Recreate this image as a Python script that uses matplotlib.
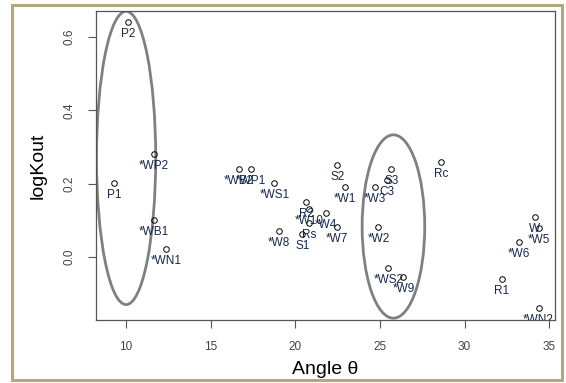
import matplotlib
matplotlib.use("Agg")
import matplotlib.pyplot as plt
from matplotlib.patches import Ellipse, Rectangle

plt.rcParams['font.family'] = ['Liberation Sans', 'DejaVu Sans']

# point labels, angle and logKout
labels = ['P2', '*WP2', 'P1', '*WB1', '*WN1', '*WB2', '*WP1', '*WS1',
          'S2', '*W1', '*W3', 'C3', 'S3', 'R2', '*W10', '*W4', 'Rs', 'S1',
          '*W7', '*W8', '*W2', '*WS2', '*W9', 'Rc', 'W', '*W5', '*W6',
          'R1', '*WN2']
angle = [10.12, 11.66, 9.29, 11.66, 12.37, 16.69, 17.40, 18.76,
         22.49, 22.96, 24.73, 25.44, 25.68, 20.65, 20.83, 21.83, 20.83, 20.41,
         22.49, 19.05, 24.91, 25.50, 26.39, 28.64, 34.14, 34.38, 33.20,
         32.19, 34.38]
logkout = [0.641, 0.281, 0.202, 0.101, 0.022, 0.240, 0.240, 0.202,
           0.251, 0.191, 0.191, 0.210, 0.240, 0.150, 0.131, 0.120, 0.093, 0.063,
           0.082, 0.071, 0.082, -0.030, -0.055, 0.259, 0.109, 0.079, 0.041,
           -0.060, -0.139]

# the two groups that are circled
groups_x = [10.0, 25.8]
groups_y = [0.27, 0.083]
groups_w = [3.5, 3.7]
groups_h = [0.80, 0.50]

xticks = [10, 15, 20, 25, 30, 35]
yticks = [0.0, 0.2, 0.4, 0.6]

fig = plt.figure(figsize=(5.66, 3.83), dpi=100)
ax = fig.add_axes([0.1696, 0.1645, 0.811, 0.807])

# outer border round the whole picture
fig.patches.append(Rectangle((12 / 566, 3 / 383), 550 / 566, 375 / 383,
                             transform=fig.transFigure, fill=False,
                             edgecolor='#b4a97c', linewidth=2.2))

ax.plot(angle, logkout, 'o', markersize=4, markerfacecolor='none',
        markeredgecolor='black', markeredgewidth=0.7)

# text under each point
for name, x, y in zip(labels, angle, logkout):
    ax.annotate(name, (x, y), xytext=(0, -4.5), textcoords='offset points',
                ha='center', va='top', fontsize=8.5, color='#14284b',
                annotation_clip=False, clip_on=True)

for cx, cy, w, h in zip(groups_x, groups_y, groups_w, groups_h):
    ax.add_patch(Ellipse((cx, cy), w, h, fill=False, edgecolor='#808080',
                         linewidth=2))

ax.set_xlim(8.22, 35.35)
ax.set_ylim(-0.172, 0.671)
ax.set_xticks(xticks)
ax.set_xticklabels([str(t) for t in xticks])
ax.set_yticks(yticks)
ax.set_yticklabels(['%.1f' % t for t in yticks], rotation=90, va='center')
ax.tick_params(length=6, width=0.8, color='#555555', labelsize=8.5,
               labelcolor='#444444', pad=9)

for side in ax.spines.values():
    side.set_color('#555555')
    side.set_linewidth(0.9)

ax.set_xlabel('Angle θ', fontsize=14, labelpad=6)
ax.set_ylabel('logKout', fontsize=14, labelpad=12)

fig.savefig('out.png', dpi=100)
